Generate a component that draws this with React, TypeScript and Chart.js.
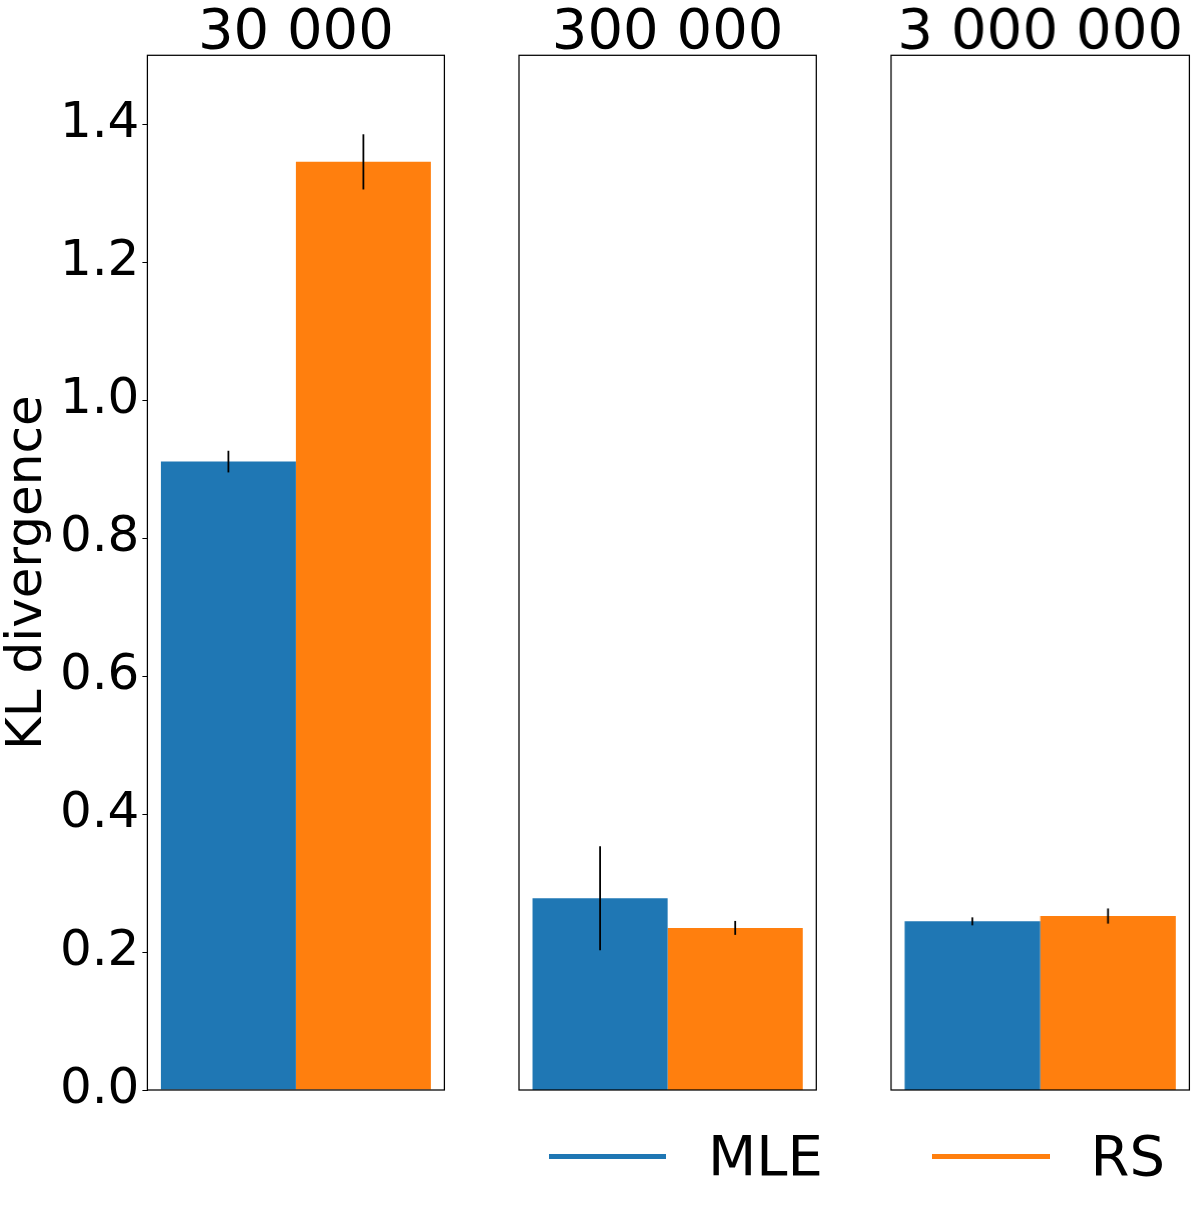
import { useEffect, useRef } from "react";
import { Chart, ChartConfiguration, Plugin, registerables } from "chart.js";

Chart.register(...registerables);

const sampleSizes = ["30 000", "300 000", "3 000 000"];
const mleValues = [0.911, 0.278, 0.2445];
const mleErrors = [0.0157, 0.0754, 0.0058];
const rsValues = [1.3455, 0.235, 0.2522];
const rsErrors = [0.04, 0.0101, 0.011];
const yTickValues = [0, 0.2, 0.4, 0.6, 0.8, 1.0, 1.2, 1.4];

const FONT = "'DejaVu Sans', sans-serif";
const BLUE = "#1f77b4";
const ORANGE = "#ff7f0e";

// error bars, drawn from each dataset's `errors` array
const errorBars: Plugin<"bar"> = {
  id: "errorBars",
  afterDatasetsDraw(chart) {
    const ctx = chart.ctx;
    const y = chart.scales.y;
    ctx.save();
    ctx.strokeStyle = "#000";
    ctx.lineWidth = 1.8;
    chart.data.datasets.forEach((ds: any, i) => {
      const meta = chart.getDatasetMeta(i);
      meta.data.forEach((el: any, j) => {
        const v = ds.data[j] as number;
        const e = ds.errors[j] as number;
        ctx.beginPath();
        ctx.moveTo(el.x, y.getPixelForValue(v - e));
        ctx.lineTo(el.x, y.getPixelForValue(v + e));
        ctx.stroke();
      });
    });
    ctx.restore();
  },
};

// box round each panel, and the panel title centred over the plot area
const frame: Plugin<"bar"> = {
  id: "frame",
  afterDraw(chart) {
    const { ctx, chartArea } = chart;
    ctx.save();
    ctx.strokeStyle = "#000";
    ctx.lineWidth = 1.25;
    ctx.strokeRect(chartArea.left, chartArea.top, chartArea.right - chartArea.left, chartArea.bottom - chartArea.top);
    ctx.fillStyle = "#000";
    ctx.font = `56px ${FONT}`;
    ctx.textAlign = "center";
    ctx.textBaseline = "alphabetic";
    ctx.fillText(String(chart.data.labels?.[0] ?? ""), (chartArea.left + chartArea.right) / 2, 48);
    ctx.restore();
  },
};

interface PanelProps {
  index: number;
  left: number;
  width: number;
  padLeft: number;
  padRight: number;
  showAxis: boolean;
}

function Panel({ index, left, width, padLeft, padRight, showAxis }: PanelProps) {
  const canvasRef = useRef<HTMLCanvasElement>(null);
  const chartRef = useRef<Chart | null>(null);

  useEffect(() => {
    if (!canvasRef.current) return;
    if (chartRef.current) chartRef.current.destroy();

    const config: ChartConfiguration<"bar"> = {
      type: "bar",
      data: {
        labels: [sampleSizes[index]],
        datasets: [
          {
            label: "MLE",
            data: [mleValues[index]],
            errors: [mleErrors[index]],
            backgroundColor: BLUE,
            barPercentage: 1,
            categoryPercentage: 0.909,
          } as any,
          {
            label: "RS",
            data: [rsValues[index]],
            errors: [rsErrors[index]],
            backgroundColor: ORANGE,
            barPercentage: 1,
            categoryPercentage: 0.909,
          } as any,
        ],
      },
      options: {
        animation: false,
        responsive: true,
        maintainAspectRatio: false,
        layout: {
          padding: { left: padLeft, right: padRight, top: 55.3, bottom: 127 },
        },
        plugins: {
          legend: { display: false },
          tooltip: { enabled: false },
          title: { display: false },
        },
        scales: {
          x: { type: "category", display: false },
          y: {
            display: showAxis,
            min: 0,
            max: 1.5,
            afterBuildTicks: (scale) => {
              scale.ticks = yTickValues.map((v) => ({ value: v }));
            },
            afterFit: (scale) => {
              if (showAxis) scale.width = 147.4;
            },
            border: { display: true, color: "#000", width: 1 },
            grid: {
              drawOnChartArea: false,
              drawTicks: true,
              tickLength: 5,
              color: "#000",
              lineWidth: 1,
            },
            ticks: {
              color: "#000",
              padding: 3,
              font: { family: FONT, size: 50 },
              callback: (v) => Number(v).toFixed(1),
            },
            title: {
              display: true,
              text: "KL divergence",
              color: "#000",
              padding: { top: 3, bottom: 0 },
              font: { family: FONT, size: 50, lineHeight: 1 },
            },
          },
        },
      },
      plugins: [errorBars, frame],
    };

    chartRef.current = new Chart(canvasRef.current, config);

    return () => {
      if (chartRef.current) {
        chartRef.current.destroy();
        chartRef.current = null;
      }
    };
  }, [index, padLeft, padRight, showAxis]);

  return (
    <div style={{ position: "absolute", left, top: 0, width, height: 1217 }}>
      <canvas ref={canvasRef} />
    </div>
  );
}

function LegendItem({ color, label, lineLeft, lineWidth, textLeft }: { color: string; label: string; lineLeft: number; lineWidth: number; textLeft: number }) {
  return (
    <>
      <div style={{ position: "absolute", left: lineLeft, top: 1153.5, width: lineWidth, height: 5, background: color }} />
      <div
        style={{
          position: "absolute",
          left: textLeft,
          top: 1128.4,
          fontFamily: FONT,
          fontSize: 56,
          lineHeight: "56px",
          color: "#000",
          whiteSpace: "nowrap",
        }}
      >
        {label}
      </div>
    </>
  );
}

export default function App() {
  return (
    <div style={{ position: "absolute", left: 0, top: 0, width: 1199, height: 1217, background: "#fff", overflow: "hidden" }}>
      <Panel index={0} left={0} width={460} padLeft={0} padRight={15.6} showAxis={true} />
      <Panel index={1} left={509} width={317.3} padLeft={10} padRight={10} showAxis={false} />
      <Panel index={2} left={881.3} width={317.4} padLeft={10} padRight={10} showAxis={false} />
      <LegendItem color={BLUE} label="MLE" lineLeft={549} lineWidth={116.7} textLeft={708} />
      <LegendItem color={ORANGE} label="RS" lineLeft={932.3} lineWidth={117.4} textLeft={1090.5} />
    </div>
  );
}
